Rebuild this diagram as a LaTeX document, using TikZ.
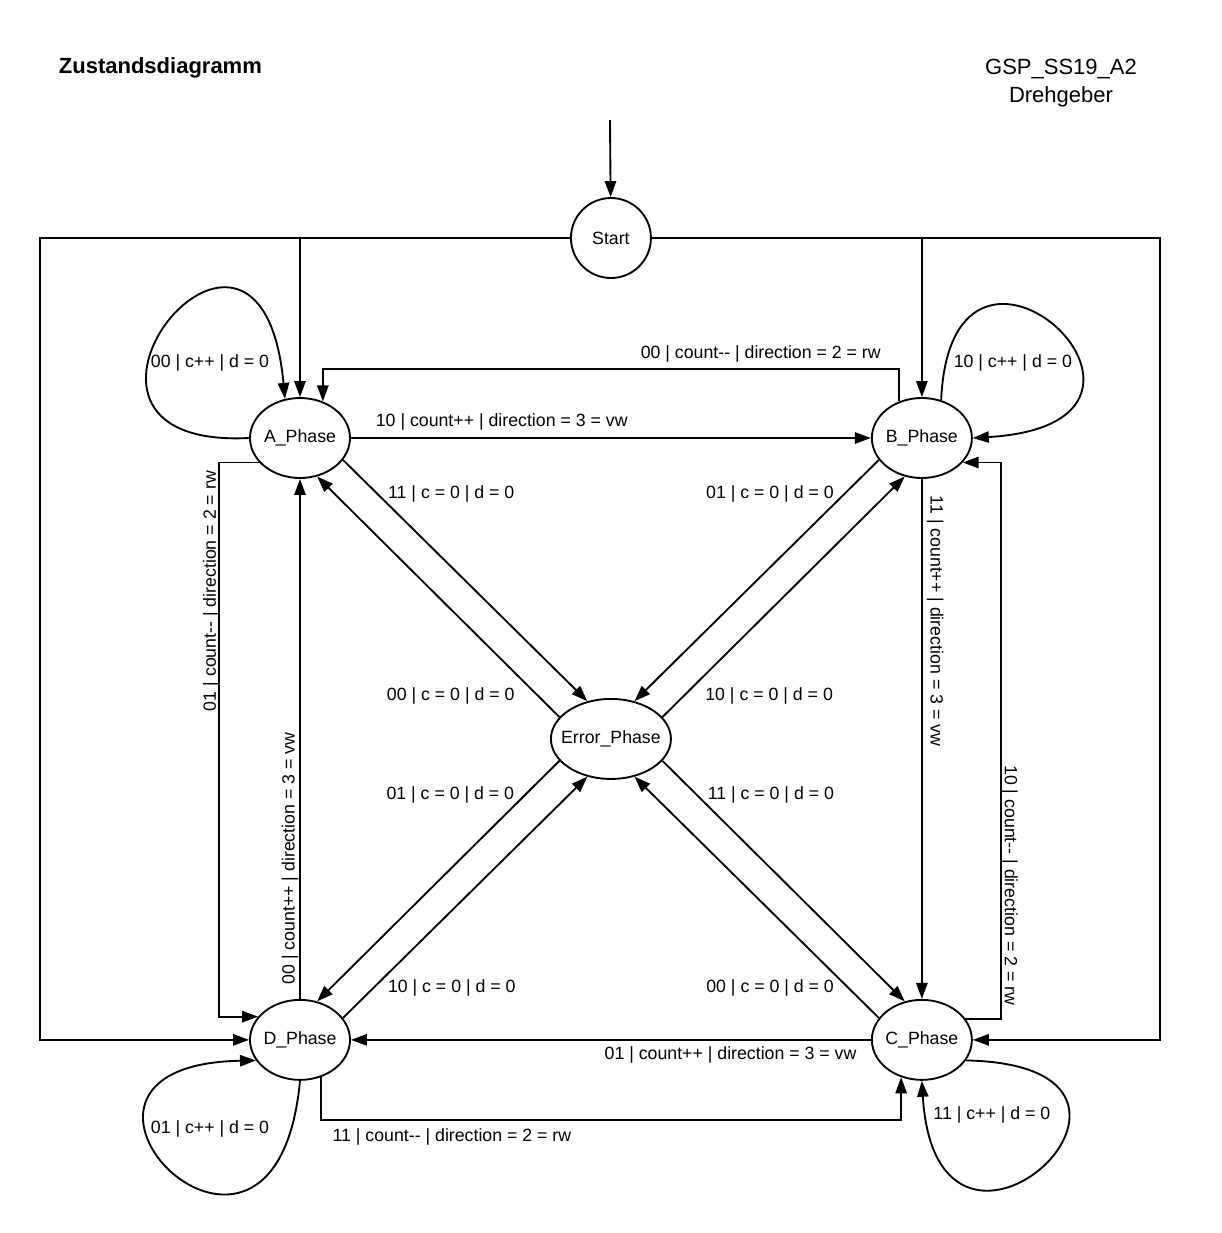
\documentclass[tikz,border=0pt]{standalone}
\usepackage{fontspec}
\setmainfont{Liberation Sans}
\usetikzlibrary{arrows.meta, positioning, shapes.geometric, calc}
\newcommand{\minusminus}{-\kern0pt-}

\begin{document}
\begin{tikzpicture}[
    x=0.75pt, y=-0.75pt,
    line width=1.4pt,
    node distance=390pt,
    phase/.style={draw, ellipse, minimum width=75pt, minimum height=60pt, inner xsep=-2pt, inner ysep=0pt, font=\fontsize{13.3pt}{16pt}\selectfont},
    startnode/.style={draw, circle, minimum size=60pt, inner sep=0pt, font=\fontsize{13.3pt}{16pt}\selectfont},
    arr/.style={-{Triangle[length=12pt, width=8.5pt]}},
    lbl/.style={inner sep=2pt, font=\fontsize{13.3pt}{16pt}\selectfont},
    title/.style={inner sep=0pt, font=\fontsize{16.5pt}{20.5pt}\selectfont}
  ]
  \useasboundingbox (0,0) rectangle (1222,1233);

  \node[title, anchor=west, font=\fontsize{16.5pt}{20pt}\selectfont\bfseries] (head) at (58,68) {Zustandsdiagramm};
  \node[title, align=center] (tag) at (1061,83) {GSP\_SS19\_A2\\Drehgeber};

  % states
  \node[phase] (APhase) at (300,438) {A\_Phase};
  \node[phase, right=of APhase] (BPhase) {B\_Phase};
  \node[phase, below=of APhase] (DPhase) {D\_Phase};
  \node[phase, below=of BPhase] (CPhase) {C\_Phase};
  \node[phase, minimum width=90pt, inner xsep=-6pt] (ErrorPhase) at ($(APhase)!0.5!(CPhase)$) {Error\_Phase};
  \node[startnode] (Start) at ($(APhase)!0.5!(BPhase)+(0,-200)$) {Start};

  % start transitions
  \coordinate (entry) at (610,120);
  \draw[arr] (entry) -- (Start);
  \draw[arr] (Start.west) -- ++(-530,0) |- (DPhase.west);
  \draw[arr] (Start.east) -- ++(508,0) |- (CPhase.east);
  \draw[arr] (APhase.north |- Start.west) -- (APhase);
  \draw[arr] (BPhase.north |- Start.east) -- (BPhase);

  % self loops
  \draw[arr] (APhase.west) .. controls +(-240,12) and +(-25,-265) .. (APhase.111);
  \draw[arr] (BPhase.63) .. controls +(10,-230) and +(250,-15) .. (BPhase.east);
  \draw[arr] (DPhase.south) .. controls +(-25,265) and +(-255,5) .. (DPhase.205);
  \draw[arr] (CPhase.335) .. controls +(250,5) and +(15,245) .. (CPhase.south);
  \node[lbl] (loopA) at ([shift={(-90,-75)}]APhase.center) {00 | c++ | d = 0};
  \node[lbl] (loopB) at ([shift={(91,-75)}]BPhase.center) {10 | c++ | d = 0};
  \node[lbl] (loopD) at ([shift={(-90,89)}]DPhase.center) {01 | c++ | d = 0};
  \node[lbl] (loopC) at ([shift={(70,75)}]CPhase.center) {11 | c++ | d = 0};

  % outer ring
  \draw[arr] (APhase) -- node[lbl, pos=0.29, yshift=12pt] {10 | count++ | direction = 3 = vw} (BPhase);
  \draw[arr] (BPhase.122) -- ++(0,-32) -| node[lbl, pos=0.12, yshift=11.3pt] {00 | count\minusminus{} | direction = 2 = rw} (APhase.58);
  \draw[arr] (APhase.211) -- ++(-40,0) |- node[lbl, pos=0.116, xshift=-6pt, rotate=90] {01 | count\minusminus{} | direction = 2 = rw} (DPhase.151);
  \draw[arr] (DPhase) -- node[lbl, pos=0.27, xshift=-7.5pt, rotate=90] {00 | count++ | direction = 3 = vw} (APhase);
  \draw[arr] (BPhase) -- node[lbl, pos=0.273, xshift=10pt, rotate=-90] {11 | count++ | direction = 3 = vw} (CPhase);
  \draw[arr] (CPhase.26) -- ++(36,0) |- node[lbl, pos=0.12, xshift=6pt, rotate=-90] {10 | count\minusminus{} | direction = 2 = rw} (BPhase.329);
  \draw[arr] (CPhase) -- node[lbl, pos=0.27, yshift=-11.2pt] {01 | count++ | direction = 3 = vw} (DPhase);
  \draw[arr] (DPhase.299) -- ++(0,43) -| node[lbl, pos=0.113, yshift=-12.6pt] {11 | count\minusminus{} | direction = 2 = rw} (CPhase.241);

  % error transitions
  \draw[arr] (APhase.333) -- node[lbl, pos=0.14, right=5.5pt] {11 | c = 0 | d = 0} (ErrorPhase.122);
  \draw[arr] (ErrorPhase.157) -- node[lbl, pos=0.088, left=15pt] {00 | c = 0 | d = 0} (APhase.294);
  \draw[arr] (BPhase.207) -- node[lbl, pos=0.14, left=5.5pt] {01 | c = 0 | d = 0} (ErrorPhase.58);
  \draw[arr] (ErrorPhase.23) -- node[lbl, pos=0.088, right=13.5pt] {10 | c = 0 | d = 0} (BPhase.246);
  \draw[arr] (ErrorPhase.203) -- node[lbl, pos=0.142, left=5.5pt] {01 | c = 0 | d = 0} (DPhase.66);
  \draw[arr] (DPhase.27) -- node[lbl, pos=0.123, right=8.5pt] {10 | c = 0 | d = 0} (ErrorPhase.238);
  \draw[arr] (CPhase.153) -- node[lbl, pos=0.123, left=8.5pt] {00 | c = 0 | d = 0} (ErrorPhase.302);
  \draw[arr] (ErrorPhase.337) -- node[lbl, pos=0.142, right=5.5pt] {11 | c = 0 | d = 0} (CPhase.114);
\end{tikzpicture}
\end{document}
